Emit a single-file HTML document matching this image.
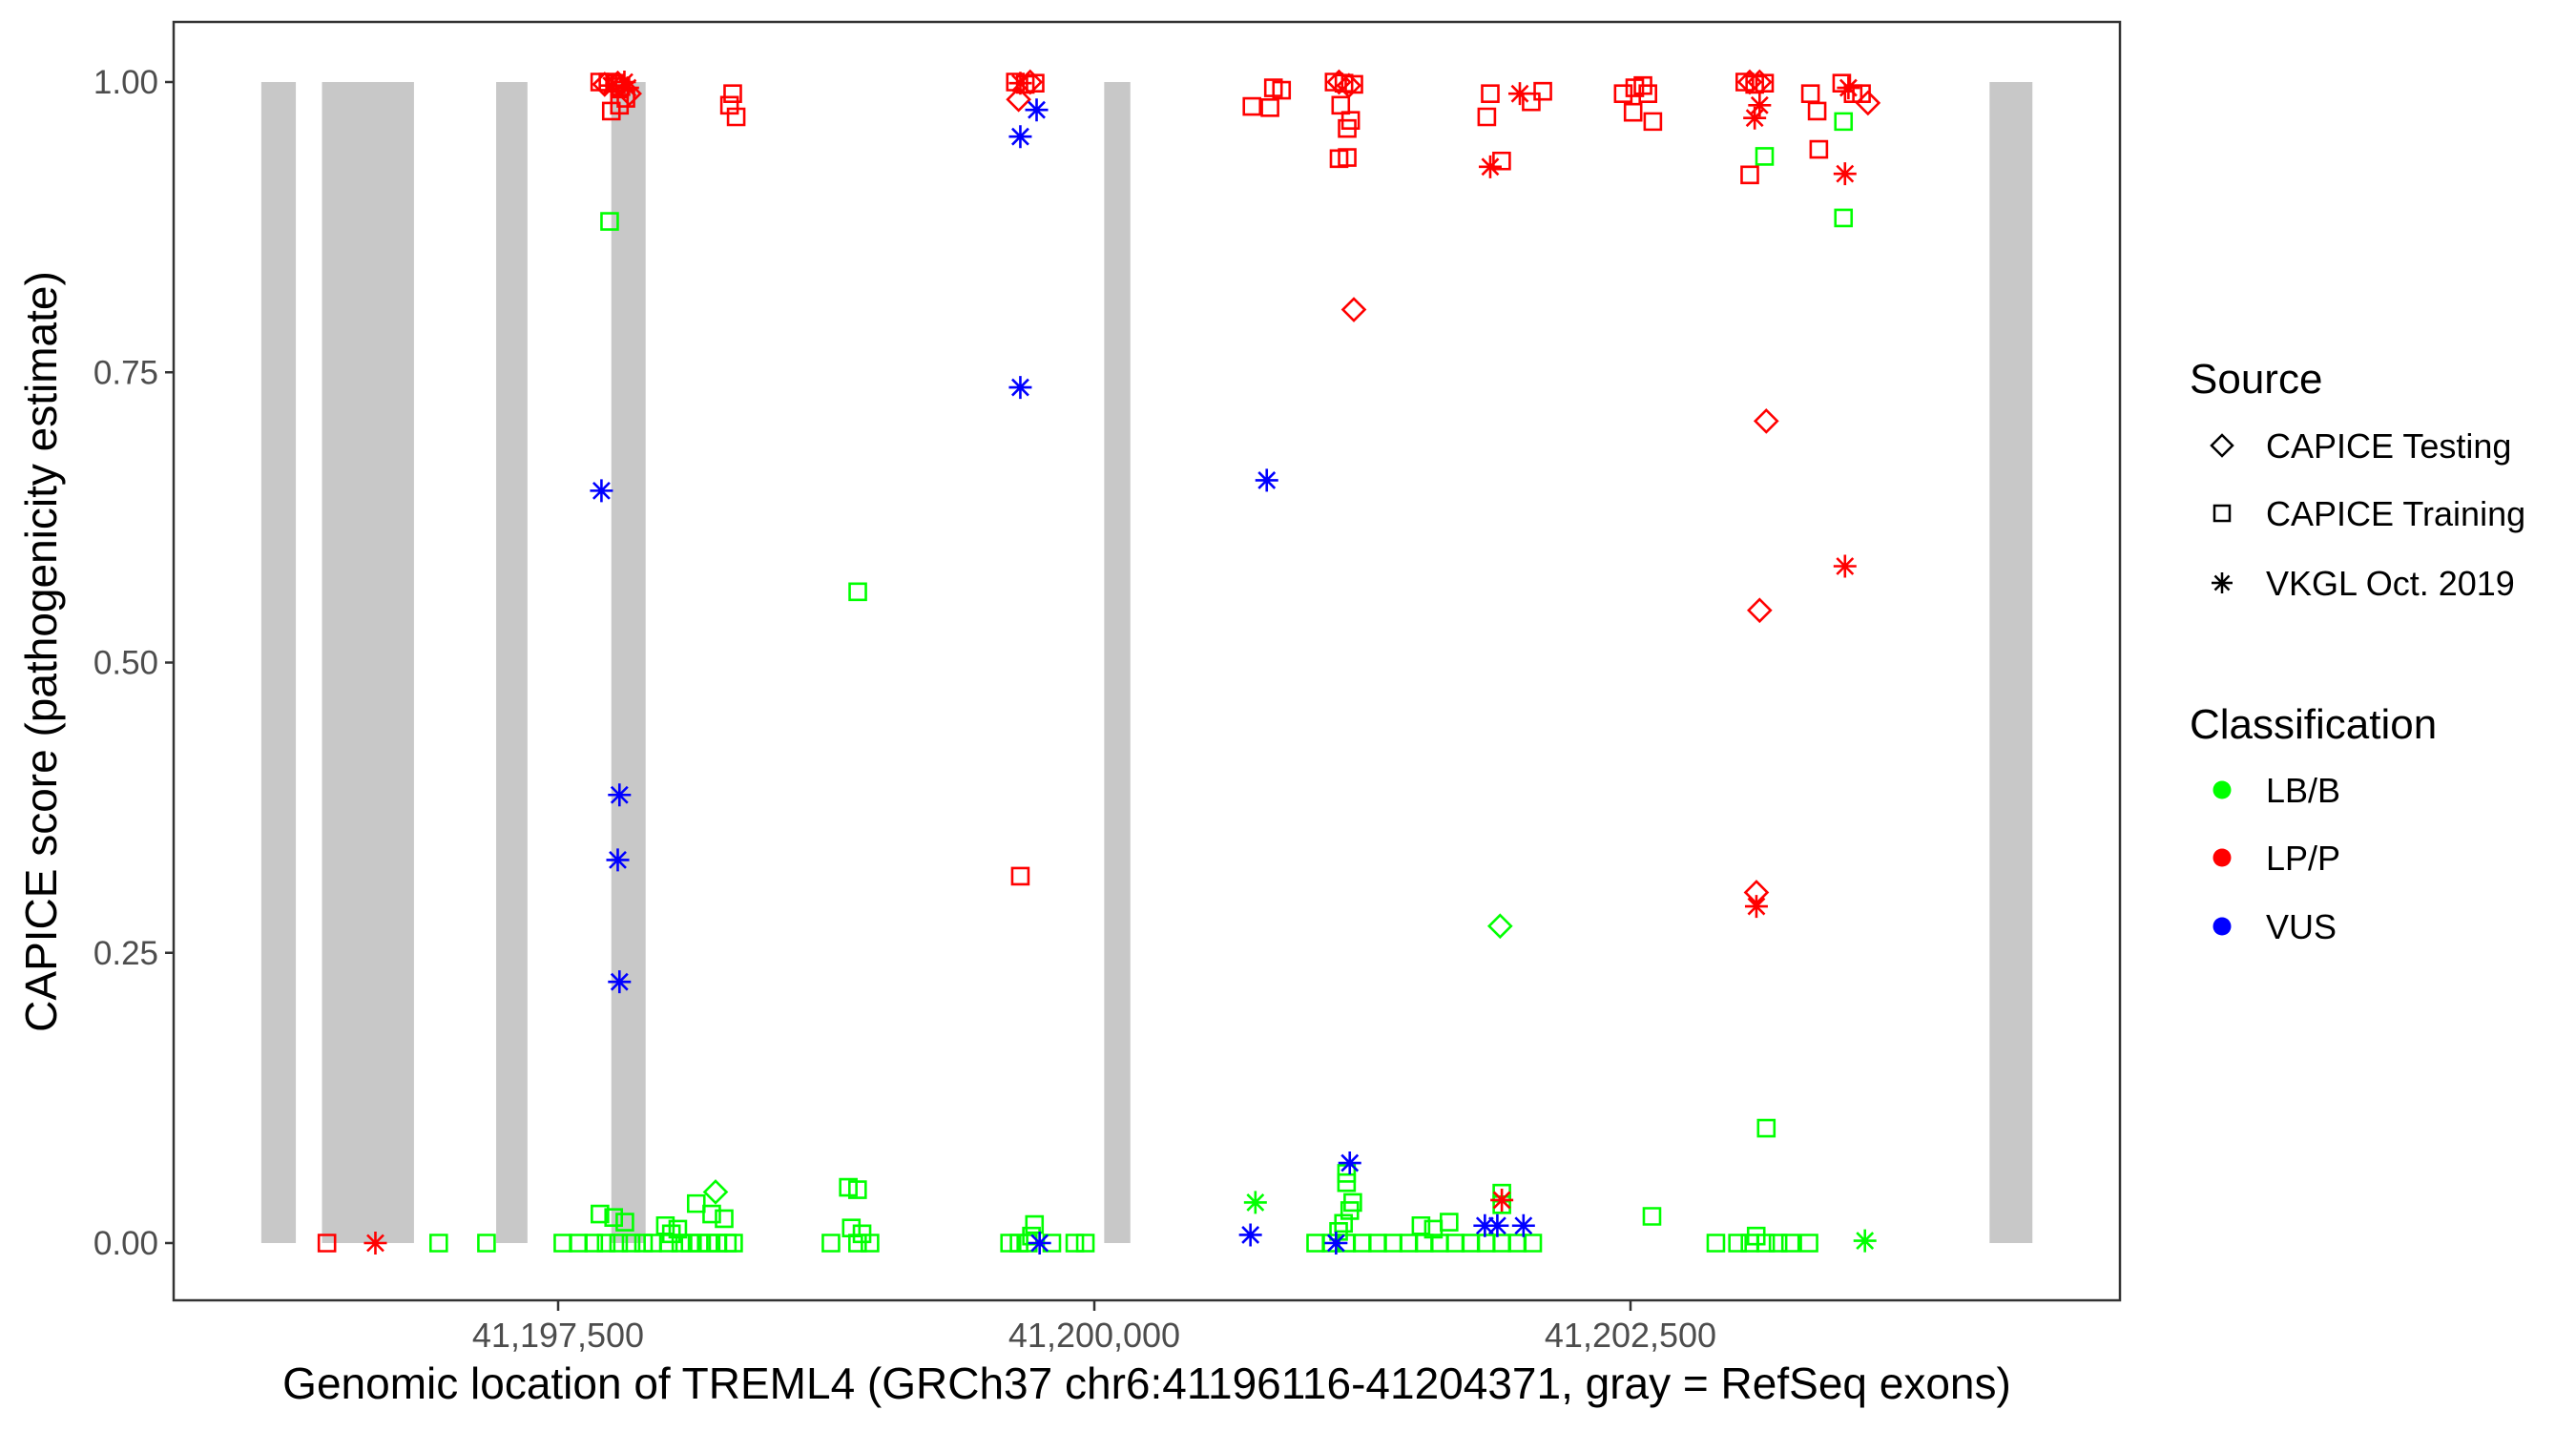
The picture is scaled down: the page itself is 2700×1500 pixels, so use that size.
<!DOCTYPE html>
<html><head><meta charset="utf-8">
<style>
html,body{margin:0;padding:0;background:#fff;}
svg{display:block;font-family:"Liberation Sans",Arial,sans-serif;}
</style></head>
<body>
<svg id="chart" width="2700" height="1500" viewBox="0 0 2700 1500" xmlns="http://www.w3.org/2000/svg">
<rect x="0" y="0" width="2700" height="1500" fill="#fff"/>
<g id="exons"></g>
<g id="points"></g>
<rect x="182" y="23" width="2040" height="1340" fill="none" stroke="#333" stroke-width="2.5"/>
<g id="yaxis"></g>
<g id="xaxis"></g>
<text x="43" y="683" transform="rotate(-90 43 683)" text-anchor="middle" dominant-baseline="central" font-size="46" fill="#000">CAPICE score (pathogenicity estimate)</text>
<text x="1202" y="1466" text-anchor="middle" font-size="46" fill="#000">Genomic location of TREML4 (GRCh37 chr6:41196116-41204371, gray = RefSeq exons)</text>
<g>
  <text x="2295" y="412" font-size="44" fill="#000">Source</text>
  <g>
    <path d="M2329 456 L2340 467 L2329 478 L2318 467 Z" fill="none" stroke="#000" stroke-width="2.5"/>
    <text x="2375" y="480" font-size="36" fill="#000">CAPICE Testing</text>
  </g>
  <g>
    <rect x="2321" y="530" width="16" height="16" fill="none" stroke="#000" stroke-width="2.5"/>
    <text x="2375" y="551" font-size="36" fill="#000">CAPICE Training</text>
  </g>
  <g>
    <path d="M2329 600 V622 M2318 611 H2340 M2321.5 603.5 L2336.5 618.5 M2336.5 603.5 L2321.5 618.5" stroke="#000" stroke-width="2.5"/>
    <text x="2375" y="624" font-size="36" fill="#000">VKGL Oct. 2019</text>
  </g>
  <text x="2295" y="774" font-size="44" fill="#000">Classification</text>
  <g>
    <circle cx="2329" cy="828" r="9.5" fill="#00FF00"/>
    <text x="2375" y="841" font-size="36" fill="#000">LB/B</text>
  </g>
  <g>
    <circle cx="2329" cy="899" r="9.5" fill="#FF0000"/>
    <text x="2375" y="912" font-size="36" fill="#000">LP/P</text>
  </g>
  <g>
    <circle cx="2329" cy="971" r="9.5" fill="#0000FF"/>
    <text x="2375" y="984" font-size="36" fill="#000">VUS</text>
  </g>
</g>
</svg>
<script>
// ---- data ----
const exonStarts = [41196116, 41196399, 41197211, 41197748, 41200046, 41204174];
const exonEnds   = [41196277, 41196828, 41197357, 41197908, 41200168, 41204374];
const yTicks = [0, 0.25, 0.5, 0.75, 1.0];
const yTickLabels = ["0.00", "0.25", "0.50", "0.75", "1.00"];
const xTicks = [41197500, 41200000, 41202500];
const xTickLabels = ["41,197,500", "41,200,000", "41,202,500"];

// CAPICE Training, LB/B
const trainBPos = [41196943,41197166,41197522,41197594,41197666,41197724,41197782,41197840,41197898,41197941,41197695,41197759,41197811,41198000,41198058,41198028,41198144,41198216,41198274,41198014,41198072,41198115,41198158,41198202,41198245,41198289,41198318,41198772,41198867,41198917,41198896,41198954,41198853,41198896,41199605,41199649,41199692,41199802,41199721,41199707,41199909,41199958,41201032,41201104,41201176,41201249,41201321,41201393,41201466,41201538,41201610,41201683,41201755,41201827,41201900,41201972,41202044,41201176,41201176,41201205,41201191,41201162,41201139,41201523,41201581,41201654,41201900,41201900,41202600,41202898,41202999,41203057,41203130,41203188,41203246,41203332,41203086,41197740,41198897,41203125,41203133,41203493,41203493];
const trainBScore = [0,0,0,0,0,0,0,0,0,0,0.025,0.022,0.018,0.015,0.012,0.008,0.034,0.025,0.021,0,0,0,0,0,0,0,0,0,0.013,0.008,0,0,0.048,0.046,0,0,0,0,0.016,0.006,0,0,0,0,0,0,0,0,0,0,0,0,0,0,0,0,0,0.060,0.052,0.035,0.028,0.017,0.010,0.015,0.012,0.018,0.043,0.033,0.023,0,0,0,0,0,0,0,0.006,0.880,0.561,0.936,0.099,0.966,0.883];
// CAPICE Training, LP/P
const trainPPos = [41196422,41197694,41197732,41197763,41197793,41197748,41197786,41197816,41198314,41198299,41198330,41199632,41199678,41199724,41199655,41200735,41200819,41200835,41200873,41201118,41201164,41201210,41201141,41201179,41201149,41201179,41201195,41201830,41201846,41201899,41202037,41202091,41202466,41202520,41202558,41202581,41202512,41202604,41203033,41203079,41203125,41203056,41203339,41203378,41203370,41203485,41203538,41203577];
const trainPScore = [0,1.0,1.0,0.999,0.996,0.975,0.98,0.986,0.99,0.98,0.97,1.0,0.998,0.999,0.316,0.979,0.978,0.995,0.993,1.0,0.999,0.998,0.934,0.935,0.98,0.96,0.967,0.97,0.99,0.932,0.983,0.992,0.99,0.995,0.997,0.99,0.974,0.966,1.0,0.998,0.999,0.92,0.99,0.942,0.975,0.999,0.99,0.99];
// CAPICE Testing
const testBPos = [41198234, 41201892];
const testBScore = [0.044, 0.273];
const testPPos = [41197717,41197778,41197832,41199647,41199701,41201141,41201187,41201210,41203056,41203102,41203133,41203102,41203087,41203607];
const testPScore = [0.998,0.999,0.99,0.985,1.0,1.0,0.997,0.804,1.0,1.0,0.708,0.545,0.302,0.982];
// VKGL
const vkglBPos = [41200751, 41203593];
const vkglBScore = [0.035, 0.002];
const vkglPPos = [41196648,41197748,41197809,41197824,41199655,41201900,41201846,41201984,41203079,41203102,41203087,41203500,41203500,41203516];
const vkglPScore = [0,0.997,1.0,0.995,0.999,0.037,0.927,0.99,0.969,0.98,0.29,0.921,0.583,0.995];
const vkglUPos = [41199745,41200728,41201191,41201127,41201821,41201879,41202001,41197702,41197786,41197778,41197786,41199655,41199731,41199655,41200804];
const vkglUScore = [0,0.007,0.069,0,0.015,0.015,0.015,0.648,0.386,0.33,0.225,0.953,0.976,0.737,0.657];

// ---- scales ----
const NS = "http://www.w3.org/2000/svg";
function xs(g){ return 585 + (g - 41197500) * 0.2248; }
function ys(v){ return 1303 - v * 1217; }
const COLORS = {B:"#00FF00", P:"#FF0000", U:"#0000FF"};

const exG = document.getElementById("exons");
for (let i = 0; i < exonStarts.length; i++) {
  const r = document.createElementNS(NS, "rect");
  r.setAttribute("x", xs(exonStarts[i]));
  r.setAttribute("width", xs(exonEnds[i]) - xs(exonStarts[i]));
  r.setAttribute("y", ys(1));
  r.setAttribute("height", ys(0) - ys(1));
  r.setAttribute("fill", "#C8C8C8");
  
  
  exG.appendChild(r);
}

const yG = document.getElementById("yaxis");
yTicks.forEach((t, i) => {
  const l = document.createElementNS(NS, "line");
  l.setAttribute("x1", 173); l.setAttribute("x2", 182);
  l.setAttribute("y1", ys(t)); l.setAttribute("y2", ys(t));
  l.setAttribute("stroke", "#333"); l.setAttribute("stroke-width", 2.5);
  
  
  yG.appendChild(l);
  const tx = document.createElementNS(NS, "text");
  tx.setAttribute("x", 166); tx.setAttribute("y", ys(t) + 12);
  tx.setAttribute("text-anchor", "end"); tx.setAttribute("font-size", 35);
  tx.setAttribute("fill", "#4D4D4D");
  tx.textContent = yTickLabels[i];
  
  
  yG.appendChild(tx);
});

const xG = document.getElementById("xaxis");
xTicks.forEach((t, i) => {
  const l = document.createElementNS(NS, "line");
  l.setAttribute("x1", xs(t)); l.setAttribute("x2", xs(t));
  l.setAttribute("y1", 1363); l.setAttribute("y2", 1374);
  l.setAttribute("stroke", "#333"); l.setAttribute("stroke-width", 2.5);
  
  
  xG.appendChild(l);
  const tx = document.createElementNS(NS, "text");
  tx.setAttribute("x", xs(t)); tx.setAttribute("y", 1412);
  tx.setAttribute("text-anchor", "middle"); tx.setAttribute("font-size", 36);
  tx.setAttribute("fill", "#4D4D4D");
  tx.textContent = xTickLabels[i];
  
  
  xG.appendChild(tx);
});

const pG = document.getElementById("points");
function drawMarker(shape, g, v, cls) {
  const x = xs(g), y = ys(v), c = COLORS[cls];
  const el = document.createElementNS(NS, "path");
  let d;
  if (shape === "square") d = `M${x-8.5} ${y-8.5} h17 v17 h-17 Z`;
  else if (shape === "diamond") d = `M${x} ${y-11.5} L${x+11.5} ${y} L${x} ${y+11.5} L${x-11.5} ${y} Z`;
  else d = `M${x} ${y-12} V${y+12} M${x-12} ${y} H${x+12} M${x-8.5} ${y-8.5} L${x+8.5} ${y+8.5} M${x+8.5} ${y-8.5} L${x-8.5} ${y+8.5}`;
  el.setAttribute("d", d);
  el.setAttribute("fill", "none");
  el.setAttribute("stroke", c);
  el.setAttribute("stroke-width", 2.6);
  
  
  pG.appendChild(el);
}
function drawSeries(shape, pos, sc, cls) {
  for (let i = 0; i < pos.length; i++) drawMarker(shape, pos[i], sc[i], cls);
}
drawSeries("square", trainBPos, trainBScore, "B");
drawSeries("square", trainPPos, trainPScore, "P");
drawSeries("diamond", testBPos, testBScore, "B");
drawSeries("diamond", testPPos, testPScore, "P");
drawSeries("star", vkglBPos, vkglBScore, "B");
drawSeries("star", vkglPPos, vkglPScore, "P");
drawSeries("star", vkglUPos, vkglUScore, "U");
</script>
</body></html>
